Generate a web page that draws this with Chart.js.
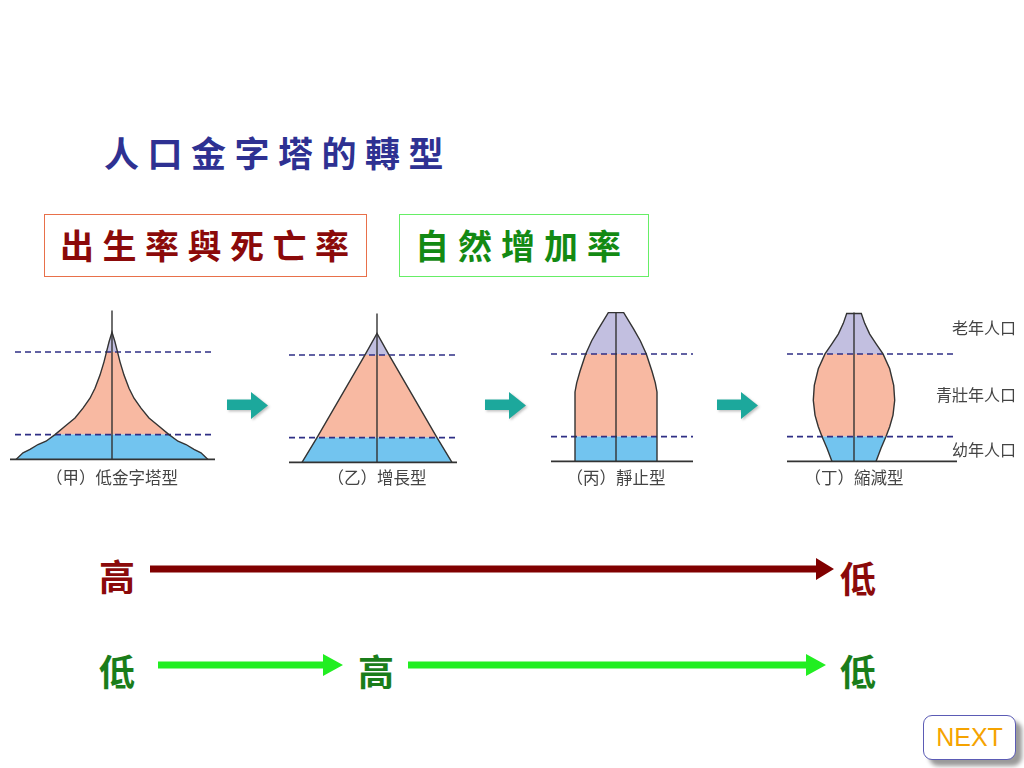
<!DOCTYPE html>
<html><head><meta charset="utf-8">
<script src="https://cdn.jsdelivr.net/npm/chart.js@4.4.1/dist/chart.umd.min.js"></script>
<style>
html,body{margin:0;padding:0;background:#fff;}
body{width:1024px;height:768px;overflow:hidden;position:relative;font-family:"Noto Sans CJK TC","Noto Sans CJK SC",sans-serif;}
.abs{position:absolute;white-space:nowrap;}
canvas{position:absolute;}
#title{left:104px;top:125px;height:54px;line-height:54px;font-size:35px;font-weight:700;color:#2e3192;letter-spacing:8.5px;}
.box{position:absolute;box-sizing:border-box;height:63px;top:214px;line-height:59px;font-size:34px;font-weight:700;}
#box1{left:44px;width:323px;border:1.5px solid #e8704a;color:#8b0a0a;padding-left:15px;letter-spacing:8.5px;}
#box2{left:399px;width:250px;border:1.5px solid #66ee66;color:#138a13;padding-left:15px;letter-spacing:9px;}
.plabel{font-size:16.5px;color:#444;height:24px;line-height:24px;top:465px;transform:translateX(-50%);}
.glabel{font-size:16px;color:#444;height:22px;line-height:22px;right:8px;}
.big{font-size:36px;font-weight:700;height:50px;line-height:50px;}
#next{left:923px;top:715px;width:93px;height:45px;box-sizing:border-box;border:1.5px solid #5b5bb5;border-radius:9px;background:#fff;box-shadow:6px 6px 4px #9a9a9a;color:#f5a300;font-family:"Liberation Sans",Arial,sans-serif;font-size:25px;line-height:42px;text-align:center;}
</style></head><body>

<div id="title" class="abs">人口金字塔的轉型</div>
<div id="box1" class="box">出生率與死亡率</div>
<div id="box2" class="box">自然增加率</div>

<svg class="abs" style="left:0;top:0" width="1024" height="768">
  <defs>
    <filter id="sh" x="-20%" y="-20%" width="150%" height="150%">
      <feDropShadow dx="1.5" dy="1.5" stdDeviation="1.2" flood-color="#777" flood-opacity="0.45"/>
    </filter>
  </defs>
  <g fill="#1fa89c" filter="url(#sh)">
    <polygon points="227,399.5 251,399.5 251,392 268,405.5 251,419 251,410 227,410"/>
    <polygon points="485,399.5 509,399.5 509,392 526,405.5 509,419 509,410 485,410"/>
    <polygon points="717,399.5 741,399.5 741,392 758,405.5 741,419 741,410 717,410"/>
  </g>
  <g fill="#800000">
    <polygon points="150,565.5 816,565.5 816,558 834,569 816,580 816,572.5 150,572.5"/>
  </g>
  <g fill="#22ee22">
    <polygon points="158,661.5 323,661.5 323,654 343,665 323,676 323,668.5 158,668.5"/>
    <polygon points="408,661.5 806,661.5 806,654 826,665 806,676 806,668.5 408,668.5"/>
  </g>
</svg>

<div class="abs big" style="left:99px;top:550px;color:#8b0a0a">高</div>
<div class="abs big" style="left:840px;top:552px;color:#8b0a0a">低</div>
<div class="abs big" style="left:99px;top:645px;color:#1a7d1a">低</div>
<div class="abs big" style="left:358px;top:645px;color:#1a7d1a">高</div>
<div class="abs big" style="left:840px;top:645px;color:#1a7d1a">低</div>

<div id="next" class="abs">NEXT</div>

<script>
// ---------- data ----------
const pyramidNames = ['（甲）低金字塔型', '（乙）增長型', '（丙）靜止型', '（丁）縮減型'];
const ageGroupLabels = ['老年人口', '青壯年人口', '幼年人口'];
const ageBreaks = [15, 65];
const axisTopAge = 90;

const agesJia   = [0, 4, 6, 9, 11, 15, 20, 25, 31, 37, 43, 51, 59, 65, 71, 77];
const widthsJia = [96, 89, 82, 74, 66, 57, 47, 37, 29, 22, 17, 12, 8, 5.5, 3, 0];

const agesYi   = [0, 15, 65, 78];
const widthsYi = [75, 60, 12, 0];

const agesBing   = [0, 15, 42, 47.5, 54.5, 65, 73, 80, 90];
const widthsBing = [41, 41, 41, 39.3, 36, 30.3, 24.3, 17.7, 7.7];

const agesDing   = [0, 8, 15, 21, 28, 37, 46, 56, 65, 71, 77, 83.5, 89.5];
const widthsDing = [22, 27, 32, 35.7, 39, 40.7, 39.7, 35.7, 29, 22.3, 15.7, 10.7, 7.3];

const baselineExtent = [[-102, 103], [-88, 80], [-65, 77], [-67, 103]];
const guideExtent    = [[-97, 100], [-88, 80], [-65, 77], [-67, 99]];

// ---------- layout / style ----------
const profiles = [[agesJia, widthsJia], [agesYi, widthsYi], [agesBing, widthsBing], [agesDing, widthsDing]];
const centers = [112, 377, 616, 854];
const baselines = [459.5, 462, 461.7, 461];
const bandColors = ['#72c4ef', '#f8b9a2', '#c2bfe0'];
const X_MIN = -110, X_MAX = 110, Y_MIN = -4, Y_MAX = 94;
const CW = 220, CH = 162;

function side(ages, widths, lo, hi) {
  const left = [];
  ages.forEach((a, i) => { if (a >= lo && a <= hi) left.push({x: -widths[i], y: a}); });
  const right = left.slice().reverse().map(p => ({x: -p.x, y: p.y}));
  return left.concat(right);
}

profiles.forEach(([ages, widths], k) => {
  const cv = document.createElement('canvas');
  cv.width = CW; cv.height = CH;
  cv.style.width = CW + 'px'; cv.style.height = CH + 'px';
  cv.style.left = (centers[k] - CW / 2) + 'px';
  cv.style.top = (baselines[k] - (Y_MAX) * CH / (Y_MAX - Y_MIN)) + 'px';
  document.body.appendChild(cv);

  const bands = [[0, ageBreaks[0]], [ageBreaks[0], ageBreaks[1]], [ageBreaks[1], Infinity]];
  const datasets = [];
  bands.forEach((b, i) => {
    datasets.push({
      data: side(ages, widths, b[0], b[1]), showLine: true, fill: 'shape',
      backgroundColor: bandColors[i], borderColor: 'rgba(0,0,0,0)', borderWidth: 0,
      pointRadius: 0, tension: 0, order: 10
    });
  });
  ageBreaks.forEach(a => {
    datasets.push({
      data: [{x: guideExtent[k][0], y: a}, {x: guideExtent[k][1], y: a}], showLine: true, fill: false,
      borderColor: '#2f2f85', borderWidth: 1.6, borderDash: [6, 4], pointRadius: 0, order: 8
    });
  });
  datasets.push({
    data: side(ages, widths, 0, Infinity), showLine: true, fill: false,
    borderColor: '#333', borderWidth: 1.4, pointRadius: 0, tension: 0, order: 6
  });
  datasets.push({
    data: [{x: 0, y: 0}, {x: 0, y: axisTopAge}], showLine: true, fill: false,
    borderColor: '#333', borderWidth: 1.4, pointRadius: 0, order: 4
  });
  datasets.push({
    data: [{x: baselineExtent[k][0], y: 0}, {x: baselineExtent[k][1], y: 0}], showLine: true, fill: false,
    borderColor: '#333', borderWidth: 1.6, pointRadius: 0, order: 2
  });

  new Chart(cv, {
    type: 'scatter',
    data: {datasets},
    options: {
      responsive: false, animation: false, events: [],
      layout: {padding: 0},
      plugins: {legend: {display: false}, tooltip: {enabled: false}},
      scales: {
        x: {type: 'linear', min: X_MIN, max: X_MAX, display: false},
        y: {type: 'linear', min: Y_MIN, max: Y_MAX, display: false}
      }
    }
  });

  const lab = document.createElement('div');
  lab.className = 'abs plabel';
  lab.style.left = centers[k] + 'px';
  lab.textContent = pyramidNames[k];
  document.body.appendChild(lab);
});

const groupTops = [316, 383, 438];
ageGroupLabels.forEach((t, i) => {
  const d = document.createElement('div');
  d.className = 'abs glabel';
  d.style.top = groupTops[i] + 'px';
  d.textContent = t;
  document.body.appendChild(d);
});
</script>
</body></html>
